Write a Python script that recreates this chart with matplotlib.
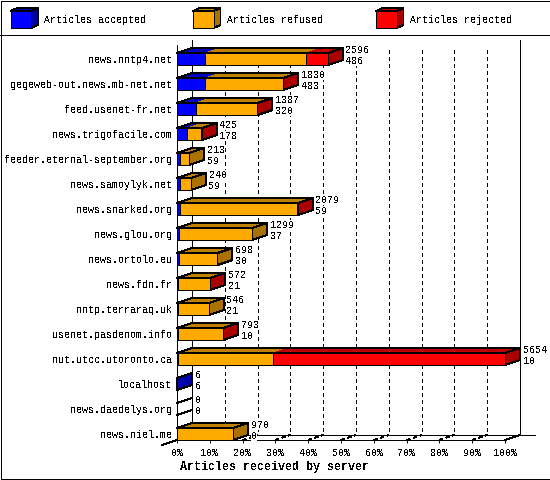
import matplotlib
matplotlib.use("Agg")
import matplotlib.pyplot as plt
from matplotlib.patches import Polygon, Rectangle

plt.rcParams.update({
    "font.family": ["Liberation Mono", "DejaVu Sans Mono"],
    "text.antialiased": False,
    "lines.antialiased": False,
    "patch.antialiased": False,
})

servers = ["news.nntp4.net", "gegeweb-out.news.mb-net.net", "feed.usenet-fr.net",
           "news.trigofacile.com", "feeder.eternal-september.org", "news.samoylyk.net",
           "news.snarked.org", "news.glou.org", "news.ortolo.eu", "news.fdn.fr",
           "nntp.terraraq.uk", "usenet.pasdenom.info", "nut.utcc.utoronto.ca",
           "localhost", "news.daedelys.org", "news.niel.me"]
accepted = [486, 483, 320, 178, 59, 59, 59, 37, 30, 21, 21, 10, 10, 6, 0, 0]
refused = [1738, 1340, 1061, 244, 154, 181, 2010, 1262, 668, 548, 525, 775, 1650, 0, 0, 970]
rejected = [372, 7, 6, 3, 0, 0, 10, 0, 0, 3, 0, 8, 3994, 0, 0, 0]
series_names = ["Articles accepted", "Articles refused", "Articles rejected"]
front_colors = ["#0000FF", "#FFAA00", "#FF0000"]
top_colors = ["#0000C0", "#C08000", "#C00000"]
side_colors = ["#0000A8", "#AA7200", "#AA0000"]
tick_percents = [0, 10, 20, 30, 40, 50, 60, 70, 80, 90, 100]
x_title = "Articles received by server"

W, H = 550, 480
FS = 7.2
fig = plt.figure(figsize=(W / 100, H / 100), dpi=100, facecolor="white")

# Frame and legend layer, in pixel coordinates
bg = fig.add_axes([0, 0, 1, 1], zorder=0)
bg.set_xlim(0, W)
bg.set_ylim(H, 0)
bg.axis("off")
PX = 0.72
bg.add_patch(Rectangle((0.5, 0.5), W - 1, H - 1.5, fc="white", ec="black", lw=PX))
bg.plot([0, W], [35, 35], color="black", lw=PX)
for x0, x_txt, name, c_f, c_t, c_s in zip([10.5, 193, 376], [44.5, 227, 410.5], series_names,
                                          front_colors, top_colors, side_colors):
    x1, y0, y1, ddx, ddy = x0 + 20.5, 11, 28, 7, 3
    bg.add_patch(Polygon([(x0, y0), (x0 + ddx, y0 - ddy), (x1 + ddx, y0 - ddy), (x1, y0)],
                         fc=c_t, ec="black", lw=PX))
    bg.add_patch(Polygon([(x1, y0), (x1 + ddx, y0 - ddy), (x1 + ddx, y1 - ddy), (x1, y1)],
                         fc=c_s, ec="black", lw=PX))
    bg.add_patch(Rectangle((x0, y0), x1 - x0, y1 - y0, fc=c_f, ec="black", lw=PX))
    bg.text(x_txt, 20, name, fontsize=FS, va="center", ha="left")

# Plot: x in articles, y in rows
MAXV = max(a + r + j for a, r, j in zip(accepted, refused, rejected))
ax = fig.add_axes([177 / W, (H - 440) / H, 328 / W, 400 / H], zorder=1)
ax.patch.set_alpha(0)
ax.set_xlim(0, MAXV)
ax.set_ylim(16, 0)
for s in ax.spines.values():
    s.set_visible(False)
DX = 15 / 328 * MAXV
DY = 0.2
BAR_TOP, BAR_BOTTOM = 0.52, 1.0
n = len(servers)

grid_x = [MAXV * p / 100 for p in tick_percents]
ax.set_xticks(grid_x)
ax.set_xticklabels([f"{p}%" for p in tick_percents], fontsize=FS)
ax.tick_params(axis="x", length=2.5, width=PX, pad=3, color="black")
ax.set_yticks([k + (BAR_TOP + BAR_BOTTOM) / 2 for k in range(n)])
ax.set_yticklabels(servers, fontsize=FS)
ax.tick_params(axis="y", length=0, pad=3.6)

floor_back = n - DY
for gx, p in zip(grid_x, tick_percents):
    if 0 < p < 100:
        ax.plot([gx + DX, gx + DX], [0.4, floor_back], color="black", lw=PX,
                ls=(0, (4, 4)), clip_on=False, zorder=1)
        ax.plot([gx, gx + DX], [n, floor_back], color="black", lw=PX,
                ls=(0, (3, 4)), clip_on=False, zorder=1)
line_kw = dict(color="black", lw=PX, clip_on=False, zorder=1.5)
ax.plot([DX, DX], [0, floor_back], **line_kw)
ax.plot([MAXV + DX, MAXV + DX], [0, floor_back], **line_kw)
ax.plot([DX, MAXV + 2 * DX], [floor_back, floor_back], **line_kw)
ax.plot([0, MAXV], [n, n], **line_kw)
ax.plot([MAXV, MAXV + DX], [n, floor_back], **line_kw)
ax.plot([-DX, 0], [n + DY, n], **line_kw)

for k in range(n):
    vals = [accepted[k], refused[k], rejected[k]]
    total = sum(vals)
    yt, yb = k + BAR_TOP, k + BAR_BOTTOM
    z = 3 + k
    # value labels
    lx = total + DX + 3 / 328 * MAXV
    for txt, ly in ((total, k + 0.40), (accepted[k], k + 0.84)):
        ax.text(lx, ly, str(txt), fontsize=FS, ha="left", va="center", zorder=z, clip_on=False,
                bbox=dict(fc="white", ec="none", pad=0))
    # top faces
    left = 0
    last = None
    for v, ct, i in zip(vals, top_colors, range(3)):
        if v > 0:
            ax.add_patch(Polygon([(left, yt), (left + DX, yt - DY), (left + v + DX, yt - DY), (left + v, yt)],
                                 fc=ct, ec="none", zorder=z, clip_on=False))
            last = i
        left += v
    if total == 0:
        # an empty bar leaves only its two slanted edges
        ax.plot([0, DX], [yt, yt - DY], color="black", lw=PX, clip_on=False, zorder=z)
        ax.plot([0, DX], [yb, yb - DY], color="black", lw=PX, clip_on=False, zorder=z)
        continue
    ax.add_patch(Polygon([(0, yt), (DX, yt - DY), (total + DX, yt - DY), (total, yt)],
                         fc="none", ec="black", lw=PX, zorder=z + 0.1, clip_on=False))
    # side face
    ax.add_patch(Polygon([(total, yt), (total + DX, yt - DY), (total + DX, yb - DY), (total, yb)],
                         fc=side_colors[last], ec="black", lw=PX, zorder=z + 0.2, clip_on=False))
    # front faces
    left = 0
    for v, cf in zip(vals, front_colors):
        if v > 0:
            ax.barh(k + (BAR_TOP + BAR_BOTTOM) / 2, v, left=left, height=BAR_BOTTOM - BAR_TOP,
                    color=cf, edgecolor="black", linewidth=PX, zorder=z + 0.3, clip_on=False)
        left += v

ax.set_xlim(0, MAXV)
ax.set_ylim(16, 0)
ax.plot([0, 0], [0.2, n], color="black", lw=PX, clip_on=False, zorder=30)

fig.text(274 / W, 1 - 467 / H, x_title, fontsize=8.4, fontweight="bold", ha="center", va="center")
fig.savefig("out.png", dpi=100)
